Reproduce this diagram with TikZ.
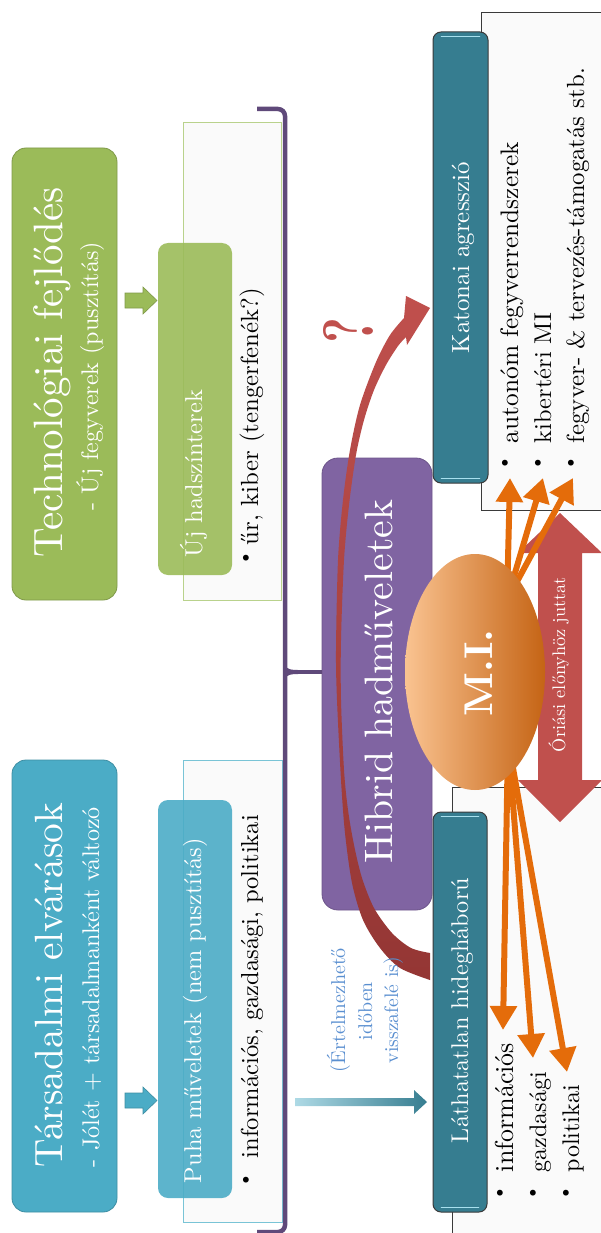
\documentclass[tikz,border=0pt]{standalone}
\usepackage{fontspec}
\usepackage{graphicx}
\usetikzlibrary{arrows.meta,shapes.geometric}
\definecolor{tblue}{HTML}{4BACC6}
\definecolor{tgreen}{HTML}{9BBB59}
\definecolor{hpurple}{HTML}{8064A2}
\definecolor{brc}{HTML}{5F497A}
\definecolor{tealc}{HTML}{367D90}
\definecolor{tealhl}{HTML}{A8E0EE}
\definecolor{redc}{HTML}{C0504D}
\definecolor{darkred}{HTML}{943634}
\definecolor{orangec}{HTML}{E46C0A}
\definecolor{panelfill}{HTML}{FAFAFA}
\definecolor{bluepanel}{HTML}{79C4D6}
\definecolor{greenpanel}{HTML}{B9D28C}
\definecolor{darkline}{HTML}{3A3A3A}
\definecolor{notec}{HTML}{5A8FD0}
\newcommand{\fitw}[2]{\resizebox{#1pt}{!}{#2}}
\begin{document}
\begin{tikzpicture}[x=1pt,y=-1pt,
  txt/.style={inner sep=0pt, outer sep=0pt, rotate=90},
  wtxt/.style={txt, text=white},
  btxt/.style={txt, text=black},
  bul/.style={txt, text=black, font=\fontsize{26}{28}\selectfont},
  box/.style={rectangle, inner sep=0pt, rounded corners=14pt, line width=0.8pt},
  panel/.style={rectangle, fill=panelfill, line width=0.9pt, inner sep=0pt},
  tealbox/.style={rectangle, inner sep=0pt, rounded corners=8pt, fill=tealc, draw=darkline, line width=1pt},
  hl/.style={tealhl, line width=1.8pt, line cap=round},
  oarrow/.style={orangec, line width=6pt, -{Triangle[width=26pt,length=24pt]}},
  bracket/.style={brc, line width=4.5pt}
]
\useasboundingbox (0,0) rectangle (601,1233);
\clip (0,0) rectangle (601,1233);

% list panels
\node[panel, draw=bluepanel, minimum width=99pt, minimum height=462pt] (bpanel) at (232.5,991) {};
\node[panel, draw=greenpanel, minimum width=98pt, minimum height=478pt] (gpanel) at (232,361) {};
\node[panel, draw=darkline, minimum width=140pt, minimum height=498pt] (kpanel) at (551,261) {};
\node[panel, draw=darkline, minimum width=170pt, minimum height=460pt] (lpanel) at (537,1017) {};

% title boxes
\node[box, fill=tblue, draw=tblue!82!black, minimum width=105pt, minimum height=452pt] (tars) at (64.5,986) {};
\node[box, fill=tgreen, draw=tgreen!82!black, minimum width=105pt, minimum height=452pt] (tech) at (64.5,374) {};

% small block arrows
\filldraw[fill=tblue, draw=tblue!82!black, line width=0.6pt] (125,1093) -- (143,1093) -- (143,1087) -- (157,1100.5) -- (143,1114) -- (143,1108) -- (125,1108) -- cycle;
\filldraw[fill=tgreen, draw=tgreen!82!black, line width=0.6pt] (125,293) -- (143,293) -- (143,287) -- (157,300.5) -- (143,314) -- (143,308) -- (125,308) -- cycle;

% sub boxes
\node[box, rounded corners=10pt, fill=tblue, fill opacity=0.9, minimum width=74pt, minimum height=398pt] (puha) at (195,999) {};
\node[box, rounded corners=10pt, fill=tgreen, fill opacity=0.9, minimum width=74pt, minimum height=332pt] (ujh) at (195,409) {};

% bracket
\draw[bracket, rounded corners=7pt] (257,109) -- (285,109) -- (285,1232) -- (257,1232);
\coordinate (brtip) at (285,672);
\fill[brc] (283,658) .. controls (284,669) and (289,670) .. (298,670) -- (298,674) .. controls (289,674) and (284,675) .. (283,686) -- cycle;

% hybrid box
\node[box, rounded corners=16pt, fill=hpurple, draw=hpurple!85!black, minimum width=110pt, minimum height=452pt] (hib) at (377,684) {};
\draw[brc, line width=3.5pt] (brtip) -- (hib.west |- brtip);

% red curved arrow
\shade[top color=redc, bottom color=darkred]
  (430,980) -- plot[smooth] coordinates {(430,980) (400,968) (380,948) (363,920) (352,883) (345,833) (341,780) (337,700) (336,650) (338,560) (343,500) (350,450) (360,405) (376,362) (390,335) (404,318)}
  -- (406,296) -- (430,308) -- (407,345) -- (406,337)
  -- plot[smooth] coordinates {(406,337) (398,346) (386,365) (374,390) (364,420) (356,455) (349,505) (344,560) (341,640) (341,700) (344,770) (348,810) (354,845) (362,878) (374,908) (392,933) (411,948) (430,953)}
  -- cycle;

% gradient arrow
\shade[left color=tblue!45!white, right color=tealc] (295,1098) -- (414,1098) -- (414,1090) -- (427,1102) -- (414,1114) -- (414,1106) -- (295,1106) -- cycle;

% teal boxes
\node[tealbox, minimum width=55pt, minimum height=451pt] (kat) at (460.5,257.5) {};
\node[tealbox, minimum width=54pt, minimum height=400pt] (lat) at (460,1012) {};
\foreach \b in {kat,lat}{
  \draw[hl] ([xshift=9pt,yshift=-5pt]\b.north west) -- ([xshift=-9pt,yshift=-5pt]\b.north east);
  \draw[hl] ([xshift=9pt,yshift=5pt]\b.south west) -- ([xshift=-9pt,yshift=5pt]\b.south east);
}

% red double arrow
\fill[redc] (560,513) -- (602,553) -- (582,553) -- (582,780) -- (602,780) -- (560,822) -- (518,780) -- (538,780) -- (538,553) -- (518,553) -- cycle;

% orange arrows
\coordinate (srcU) at (507,600);
\coordinate (srcD) at (508,740);
\coordinate (k1) at (510,478);
\coordinate (k2) at (543,478);
\coordinate (k3) at (573,478);
\coordinate (h1) at (503,1030);
\coordinate (h2) at (533,1058);
\coordinate (h3) at (567,1072);
\foreach \t in {k1,k2,k3}{ \draw[oarrow] (srcU) -- (\t); }
\foreach \t in {h1,h2,h3}{ \draw[oarrow] (srcD) -- (\t); }

% M.I. ellipse
\node[ellipse, inner sep=0pt, minimum width=140pt, minimum height=236pt,
  left color=orange!30!white!80!orangec, middle color=orangec!65!white, right color=orangec!85!black!95] (mi) at (475,672) {};

% texts
\node[wtxt, anchor=base] (t1) at (62,985) {\fitw{364}{Társadalmi elvárások}};
\node[wtxt, anchor=base] (t1s) at (99,987) {\fitw{360}{- Jólét + társadalmanként változó}};
\node[wtxt, anchor=base] (t2) at (62,372) {\fitw{370}{Technológiai fejlődés}};
\node[wtxt, anchor=base] (t2s) at (98,376) {\fitw{268}{- Új fegyverek (pusztítás)}};
\node[wtxt, anchor=base west] (puhat) at (201,1183) {\fitw{345}{Puha műveletek (nem pusztítás)}};
\node[wtxt, anchor=base west] (ujt) at (202,557) {\fitw{167}{Új hadszínterek}};

\node[bul] (bl1) at (248,1180) {\textbullet};
\node[btxt, anchor=base west] (l1) at (258,1158) {\fitw{343}{információs, gazdasági, politikai}};
\node[bul] (bl2) at (248,558) {\textbullet};
\node[btxt, anchor=base west] (l2) at (258,545) {\fitw{257}{űr, kiber (tengerfenék?)}};

\node[wtxt, anchor=base west] (hibt) at (392,863) {\fitw{363}{Hibrid hadműveletek}};
\node[wtxt, anchor=base west] (katt) at (469,353) {\fitw{191}{Katonai agresszió}};
\node[wtxt, anchor=base west] (latt) at (468,1143) {\fitw{265}{Láthatatlan hidegháború}};

\node[bul] (kb1) at (507,463) {\textbullet};
\node[bul] (kb2) at (540,463) {\textbullet};
\node[bul] (kb3) at (573,463) {\textbullet};
\node[btxt, anchor=base west] (kt1) at (518,443) {\fitw{301}{autonóm fegyverrendszerek}};
\node[btxt, anchor=base west] (kt2) at (551,443) {\fitw{130}{kibertéri MI}};
\node[btxt, anchor=base west] (kt3) at (584,443) {\fitw{375}{fegyver- \& tervezés-támogatás stb.}};

\node[bul] (lb1) at (502,1193) {\textbullet};
\node[bul] (lb2) at (535,1193) {\textbullet};
\node[bul] (lb3) at (568,1193) {\textbullet};
\node[btxt, anchor=base west] (lt1) at (513,1172) {\fitw{129}{információs}};
\node[btxt, anchor=base west] (lt2) at (546,1172) {\fitw{100}{gazdasági}};
\node[btxt, anchor=base west] (lt3) at (579,1172) {\fitw{87}{politikai}};

\node[wtxt, anchor=base, font=\bfseries] (mit) at (492,673) {\fitw{87}{M.I.}};
\node[wtxt, anchor=base west] (ori) at (565,752) {\fitw{175}{Óriási előnyhöz juttat}};

\node[txt, text=notec, anchor=base] (n1) at (345,1010) {\fitw{124}{(Értelmezhető}};
\node[txt, text=notec, anchor=base] (n2) at (372,1011) {\fitw{58}{időben}};
\node[txt, text=notec, anchor=base] (n3) at (398,1010) {\fitw{106}{visszafelé is)}};

\node[txt, text=redc, font=\bfseries] (q) at (348,330) {\resizebox{26pt}{50pt}{?}};
\end{tikzpicture}
\end{document}
